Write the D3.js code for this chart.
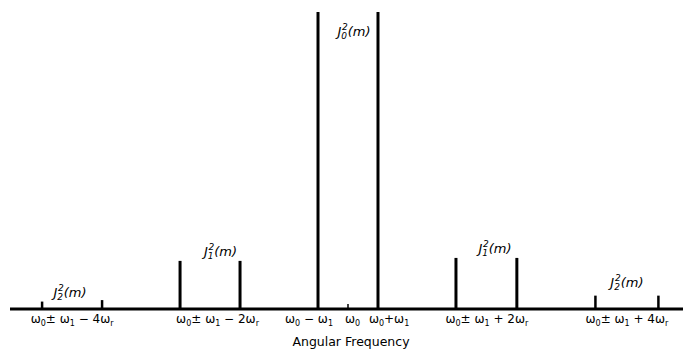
<!DOCTYPE html>
<html>
<head>
<meta charset="utf-8">
<script src="https://cdn.jsdelivr.net/npm/d3@7"></script>
<style>
  body { margin: 0; background: #fff; }
  text { font-family: "DejaVu Sans", sans-serif; fill: #000; }
</style>
</head>
<body>
<div id="chart"></div>
<script>
// frequency in units of w1, measured from w0 (w0 = 0)
const lineFreqs = [-10.2, -8.2, -5.6, -3.6, -1, 1, 3.6, 5.63, 8.25, 10.35];
// relative power J_n^2(m), J0^2 = 1
const linePower = [0.025, 0.03, 0.162, 0.162, 1, 1, 0.172, 0.172, 0.045, 0.045];
const lineWidth = [2.5, 2.5, 3, 3, 3, 3, 3, 3, 2.5, 2.5];

// labels over the line pairs: [freq, power level of label baseline, order n]
const pairLabelFreq = [-9.27, -4.25, 0.2, 4.9, 9.3];
const pairLabelLevel = [0.04, 0.18, 0.92, 0.19, 0.075];
const pairLabelOrder = ["2", "1", "0", "1", "2"];

// tick labels under the axis, parts: [text, "sub" | null]
const tickFreqs = [-9.2, -4.35, -1.3, 0.15, 1.37, 4.63, 9.3];
const tickTexts = [
  [["ω", null], ["0", "sub"], ["± ω", null], ["1", "sub"], [" − 4ω", null], ["r", "sub"]],
  [["ω", null], ["0", "sub"], ["± ω", null], ["1", "sub"], [" − 2ω", null], ["r", "sub"]],
  [["ω", null], ["0", "sub"], [" − ω", null], ["1", "sub"]],
  [["ω", null], ["0", "sub"]],
  [["ω", null], ["0", "sub"], ["+ω", null], ["1", "sub"]],
  [["ω", null], ["0", "sub"], ["± ω", null], ["1", "sub"], [" + 2ω", null], ["r", "sub"]],
  [["ω", null], ["0", "sub"], ["± ω", null], ["1", "sub"], [" + 4ω", null], ["r", "sub"]]
];
const axisTitle = "Angular Frequency";

const width = 683, height = 350;
const baseY = 309;

const svg = d3.select("#chart").append("svg")
  .attr("width", width)
  .attr("height", height);

const x = d3.scaleLinear().domain([-11.27, 11.17]).range([10, 683]);
const y = d3.scaleLinear().domain([0, 1]).range([baseY, 12]);

// spectral lines
svg.selectAll("line.spec")
  .data(lineFreqs)
  .enter()
  .append("line")
  .attr("class", "spec")
  .attr("x1", d => x(d))
  .attr("x2", d => x(d))
  .attr("y1", y(0))
  .attr("y2", (d, i) => y(linePower[i]))
  .attr("stroke", "#000")
  .attr("stroke-width", (d, i) => lineWidth[i]);

// small tick at w0
svg.append("line")
  .attr("x1", x(0)).attr("x2", x(0))
  .attr("y1", y(0)).attr("y2", y(0) - 5)
  .attr("stroke", "#000")
  .attr("stroke-width", 1.5);

// baseline
svg.append("line")
  .attr("x1", x.range()[0])
  .attr("x2", x.range()[1])
  .attr("y1", y(0))
  .attr("y2", y(0))
  .attr("stroke", "#000")
  .attr("stroke-width", 3);

// J_n^2(m) labels
const pl = svg.selectAll("text.pair")
  .data(pairLabelFreq)
  .enter()
  .append("text")
  .attr("class", "pair")
  .attr("x", d => x(d))
  .attr("y", (d, i) => y(pairLabelLevel[i]))
  .attr("text-anchor", "middle")
  .attr("font-size", 13)
  .attr("font-style", "italic");
pl.append("tspan").text("J");
pl.append("tspan").attr("font-size", 9).attr("dy", 3).text((d, i) => pairLabelOrder[i]);
pl.append("tspan").attr("font-size", 9).attr("dy", -9).attr("dx", -5).text("2");
pl.append("tspan").attr("dy", 6).text("(m)");

// tick labels
const tl = svg.selectAll("text.tick")
  .data(tickFreqs)
  .enter()
  .append("text")
  .attr("class", "tick")
  .attr("x", d => x(d))
  .attr("y", 323)
  .attr("text-anchor", "middle")
  .attr("font-size", 12);
tl.each(function(d, i) {
  const t = d3.select(this);
  let shifted = false;
  tickTexts[i].forEach(([s, kind]) => {
    const sp = t.append("tspan").text(s);
    if (kind === "sub") {
      sp.attr("font-size", 8).attr("dy", 3);
      shifted = true;
    } else if (shifted) {
      sp.attr("dy", -3);
      shifted = false;
    }
  });
});

svg.append("text")
  .attr("x", x(0.1))
  .attr("y", 346)
  .attr("text-anchor", "middle")
  .attr("font-size", 12.5)
  .text(axisTitle);
</script>
</body>
</html>
